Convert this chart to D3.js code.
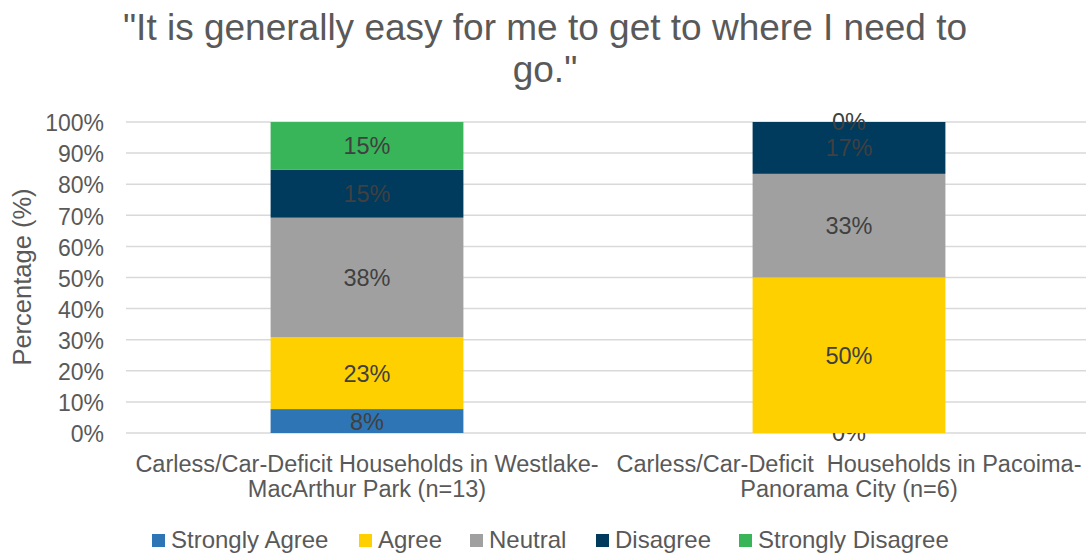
<!DOCTYPE html>
<html>
<head>
<meta charset="utf-8">
<script src="https://cdn.jsdelivr.net/npm/d3@7"></script>
<style>
  body { margin: 0; background: #fff; }
  text { font-family: "Liberation Sans", Arial, sans-serif; }
</style>
</head>
<body>
<div id="chart"></div>
<script>
// data
const categories = [
    ['Carless/Car-Deficit Households in Westlake-', 'MacArthur Park (n=13)'],
    ['Carless/Car-Deficit\u00a0 Households in Pacoima-', 'Panorama City (n=6)']
];
const series = ['Strongly Agree', 'Agree', 'Neutral', 'Disagree', 'Strongly Disagree'];
const stronglyAgree = [7.69, 0];
const agree = [23.08, 50];
const neutral = [38.46, 33.33];
const disagree = [15.38, 16.67];
const stronglyDisagree = [15.38, 0];
const yTicks = [0, 10, 20, 30, 40, 50, 60, 70, 80, 90, 100];
const colors = ['#2e75b6', '#ffd000', '#a0a0a0', '#003a5d', '#38b459'];

const width = 1086, height = 554;
const plotLeft = 126, plotRight = 1090, plotTop = 122, plotBottom = 433;

const svg = d3.select('#chart').append('svg')
    .attr('width', width)
    .attr('height', height);

const rows = categories.map((c, i) => {
    const r = {idx: i};
    r[series[0]] = stronglyAgree[i];
    r[series[1]] = agree[i];
    r[series[2]] = neutral[i];
    r[series[3]] = disagree[i];
    r[series[4]] = stronglyDisagree[i];
    return r;
});

const stacked = d3.stack().keys(series)(rows);

const x = d3.scaleBand()
    .domain(categories.map((c, i) => i))
    .range([plotLeft, plotRight])
    .paddingInner(0.6)
    .paddingOuter(0.3);

const y = d3.scaleLinear()
    .domain([0, 100])
    .range([plotBottom, plotTop]);

// gridlines
svg.append('g')
    .selectAll('line')
    .data(yTicks)
    .enter()
    .append('line')
    .attr('x1', plotLeft)
    .attr('x2', width)
    .attr('y1', d => y(d))
    .attr('y2', d => y(d))
    .attr('stroke', '#d9d9d9')
    .attr('stroke-width', 1.5);

// y axis
const yAxis = svg.append('g')
    .attr('transform', `translate(${plotLeft}, 0)`)
    .call(d3.axisLeft(y).tickValues(yTicks).tickFormat(d => d + '%').tickSize(0).tickPadding(22));
yAxis.select('.domain').remove();
yAxis.selectAll('text')
    .attr('font-size', 23)
    .attr('dy', '0.38em')
    .attr('fill', '#595959')
    .attr('font-family', '"Liberation Sans", Arial, sans-serif');

// bars
const groups = svg.selectAll('.layer')
    .data(stacked)
    .enter()
    .append('g')
    .attr('class', 'layer')
    .attr('fill', (d, i) => colors[i]);

groups.selectAll('rect')
    .data(d => d)
    .enter()
    .append('rect')
    .attr('x', d => x(d.data.idx))
    .attr('width', x.bandwidth())
    .attr('y', d => y(d[1]))
    .attr('height', d => y(d[0]) - y(d[1]));

// data labels
groups.selectAll('text')
    .data(d => d)
    .enter()
    .append('text')
    .attr('x', d => x(d.data.idx) + x.bandwidth() / 2)
    .attr('y', d => (y(d[0]) + y(d[1])) / 2)
    .attr('dy', '0.36em')
    .attr('text-anchor', 'middle')
    .attr('font-size', 23.5)
    .attr('fill', '#404040')
    .text(d => Math.round(d[1] - d[0]) + '%');

// x axis category labels
categories.forEach((lines, i) => {
    const cx = x(i) + x.bandwidth() / 2;
    const t = svg.append('text')
        .attr('x', cx)
        .attr('y', 472)
        .attr('text-anchor', 'middle')
        .attr('font-size', 23.5)
        .attr('fill', '#595959')
        .style('white-space', 'pre');
    lines.forEach((l, j) => {
        t.append('tspan')
            .attr('x', cx)
            .attr('dy', j === 0 ? 0 : 25)
            .text(l);
    });
});

// title
const title = svg.append('text')
    .attr('x', 545)
    .attr('y', 40)
    .attr('text-anchor', 'middle')
    .attr('font-size', 37)
    .attr('fill', '#595959');
title.append('tspan').attr('x', 545).text('"It is generally easy for me to get to where I need to');
title.append('tspan').attr('x', 545).attr('dy', 42).text('go."');

// y axis label
svg.append('text')
    .attr('transform', `translate(31, 277) rotate(-90)`)
    .attr('text-anchor', 'middle')
    .attr('font-size', 25.5)
    .attr('fill', '#595959')
    .text('Percentage (%)');

// legend
const legendX = [152, 359, 470, 596, 739];
const legend = svg.append('g');
series.forEach((s, i) => {
    legend.append('rect')
        .attr('x', legendX[i])
        .attr('y', 534)
        .attr('width', 13)
        .attr('height', 13)
        .attr('fill', colors[i]);
    legend.append('text')
        .attr('x', legendX[i] + 19)
        .attr('y', 548)
        .attr('font-size', 24)
        .attr('fill', '#595959')
        .text(s);
});
</script>
</body>
</html>
